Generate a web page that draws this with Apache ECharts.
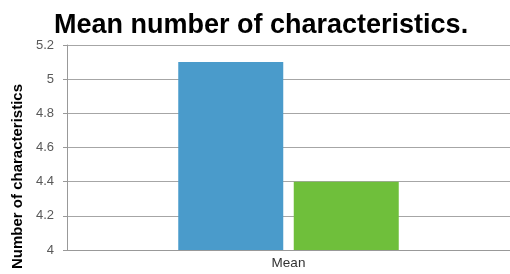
<!DOCTYPE html>
<html>
<head>
<meta charset="utf-8">
<script src="https://cdn.jsdelivr.net/npm/echarts@6/dist/echarts.min.js"></script>
<style>
  html, body { margin: 0; padding: 0; background: #fff; }
  #chart { width: 510px; height: 274px; }
</style>
</head>
<body>
<div id="chart"></div>
<script>
  var categories = ['Mean']
  var seriesA = [5.1]
  var seriesB = [4.4]
  var yMin = 4
  var yMax = 5.2
  var yStep = 0.2

  var chart = echarts.init(document.getElementById('chart'))

  chart.setOption({
    animation: false,
    title: {
      text: 'Mean number of characteristics.',
      left: 49,
      top: 7,
      textStyle: {
        fontFamily: 'Liberation Sans, Arial, sans-serif',
        fontSize: 27,
        fontWeight: 'bold',
        color: '#000'
      }
    },
    grid: {
      left: 67,
      right: 0,
      top: 45,
      bottom: 24
    },
    xAxis: {
      type: 'category',
      data: categories,
      axisLine: { show: true, lineStyle: { color: '#999', width: 1 } },
      axisTick: { show: false },
      axisLabel: {
        color: '#333',
        fontSize: 13.5,
        margin: 6,
        fontFamily: 'Liberation Sans, Arial, sans-serif'
      }
    },
    yAxis: {
      type: 'value',
      min: yMin,
      max: yMax,
      interval: yStep,
      name: 'Number of characteristics',
      nameLocation: 'middle',
      nameGap: 37,
      nameTextStyle: {
        fontFamily: 'Liberation Sans, Arial, sans-serif',
        fontSize: 15,
        fontWeight: 'bold',
        color: '#000',
        padding: [0, 58, 0, 0]
      },
      axisLine: { show: true, lineStyle: { color: '#999', width: 1 } },
      axisTick: { show: true, length: 4, lineStyle: { color: '#999' } },
      axisLabel: {
        color: '#595959',
        fontSize: 13,
        margin: 13,
        fontFamily: 'Liberation Sans, Arial, sans-serif'
      },
      splitLine: { show: true, lineStyle: { color: '#a6a6a6', width: 1 } }
    },
    series: [
      {
        type: 'bar',
        data: seriesA,
        barWidth: 105,
        barGap: '10%',
        itemStyle: { color: '#4a9bcb' }
      },
      {
        type: 'bar',
        data: seriesB,
        barWidth: 105,
        itemStyle: { color: '#6fbf3b' }
      }
    ]
  })
</script>
</body>
</html>
